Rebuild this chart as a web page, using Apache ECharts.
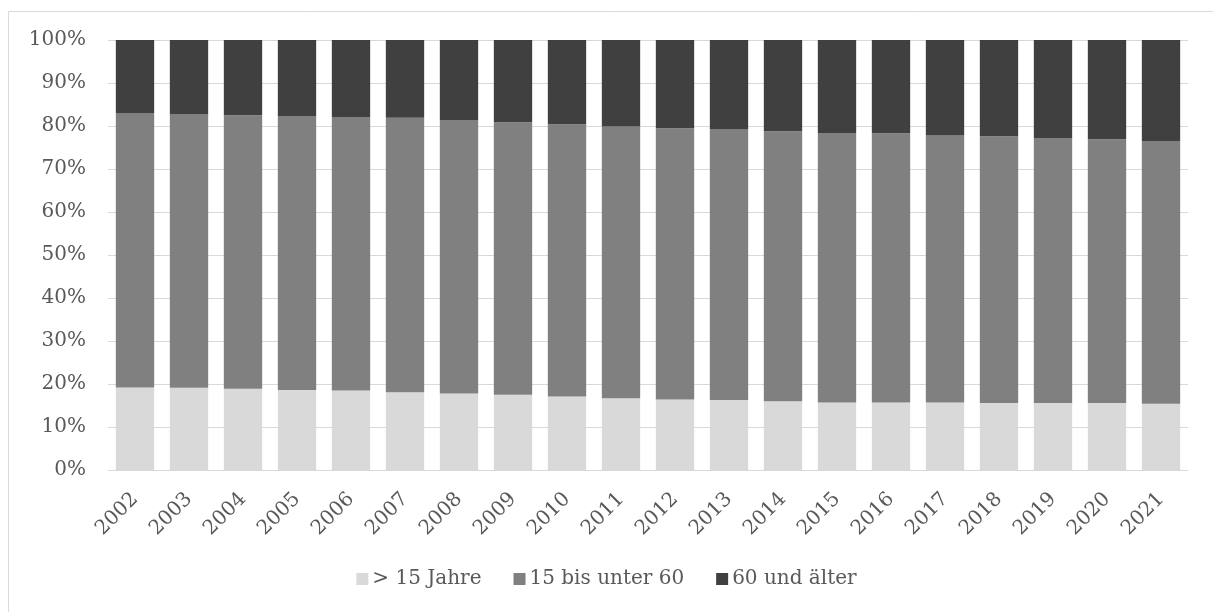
<!DOCTYPE html>
<html>
<head>
<meta charset="utf-8">
<script src="https://cdn.jsdelivr.net/npm/echarts@6/dist/echarts.min.js"></script>
<style>
  html, body { margin: 0; padding: 0; background: #fff; }
  #chart { width: 1213px; height: 612px; }
</style>
</head>
<body>
<div id="chart"></div>
<script>
const years = ["2002", "2003", "2004", "2005", "2006", "2007", "2008", "2009", "2010", "2011",
  "2012", "2013", "2014", "2015", "2016", "2017", "2018", "2019", "2020", "2021"];

// shares in percent
const under15 = [19.2, 19.1, 18.9, 18.6, 18.5, 18.1, 17.8, 17.5, 17.1, 16.7,
  16.4, 16.3, 16.0, 15.7, 15.7, 15.7, 15.6, 15.6, 15.6, 15.4];
const from15to60 = [63.8, 63.6, 63.6, 63.7, 63.6, 63.8, 63.6, 63.4, 63.3, 63.2,
  63.1, 62.9, 62.8, 62.7, 62.6, 62.1, 62.0, 61.6, 61.3, 61.1];
const over60 = [17.0, 17.3, 17.5, 17.7, 17.9, 18.1, 18.6, 19.1, 19.6, 20.1,
  20.5, 20.8, 21.2, 21.6, 21.7, 22.2, 22.4, 22.8, 23.1, 23.5];

const seriesNames = ["> 15 Jahre", "15 bis unter 60", "60 und älter"];
const colors = ["#d9d9d9", "#808080", "#404040"];

const font = "DejaVu Serif";
const textColor = "#595959";

const chart = echarts.init(document.getElementById("chart"));

const option = {
  animation: false,
  color: colors,
  graphic: [
    {
      type: "rect",
      shape: { x: 8.5, y: 11.5, width: 1300, height: 700 },
      style: { fill: "none", stroke: "#d9d9d9", lineWidth: 1 },
      silent: true,
    },
  ],
  grid: { left: 108, right: 25, top: 40, bottom: 142 },
  legend: {
    bottom: 18,
    left: "center",
    itemWidth: 12,
    itemHeight: 12,
    itemGap: 32,
    icon: "rect",
    textStyle: { fontFamily: font, fontSize: 20, color: textColor, padding: [0, 0, 0, -1] },
    data: seriesNames,
  },
  xAxis: {
    type: "category",
    data: years,
    axisLine: { lineStyle: { color: "#d9d9d9", width: 1 } },
    axisTick: { show: false },
    axisLabel: {
      rotate: 45,
      interval: 0,
      margin: 26,
      fontFamily: font,
      fontSize: 20,
      color: textColor,
    },
  },
  yAxis: {
    type: "value",
    min: 0,
    max: 100,
    interval: 10,
    axisLine: { show: false },
    axisTick: { show: false },
    splitLine: { lineStyle: { color: "#d9d9d9", width: 1 } },
    axisLabel: {
      formatter: "{value}%",
      margin: 22,
      fontFamily: font,
      fontSize: 20,
      color: textColor,
    },
  },
  series: [
    { name: seriesNames[0], type: "bar", stack: "total", data: under15, barCategoryGap: "29%" },
    { name: seriesNames[1], type: "bar", stack: "total", data: from15to60, barCategoryGap: "29%" },
    { name: seriesNames[2], type: "bar", stack: "total", data: over60, barCategoryGap: "29%" },
  ],
};

chart.setOption(option);
</script>
</body>
</html>
